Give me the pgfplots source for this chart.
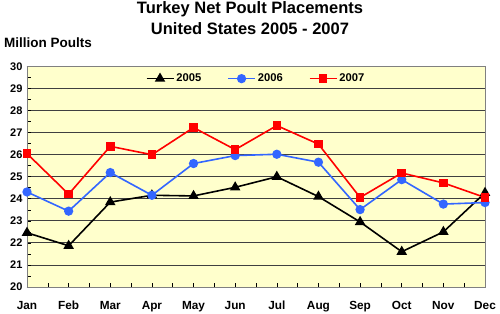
\documentclass[border=0pt]{standalone}
\usepackage{pgfplots}
\pgfplotsset{compat=1.18}
\usepackage{fontspec}
\setmainfont{Liberation Sans}
\definecolor{bgy}{HTML}{FFFFCC}
\definecolor{blu}{HTML}{3366FF}
\definecolor{gridc}{HTML}{404040}
\begin{document}
\begin{tikzpicture}
\path[use as bounding box] (-27pt,-26pt) rectangle (473pt,287pt);
\begin{axis}[
  at={(0pt,0pt)}, anchor=south west,
  scale only axis, width=458pt, height=220.5pt,
  xmin=0, xmax=11, ymin=20, ymax=30,
  xtick={0,...,11},
  xticklabels={Jan,Feb,Mar,Apr,May,Jun,Jul,Aug,Sep,Oct,Nov,Dec},
  ytick={20,...,30},
  minor xtick={0.5,1.5,...,10.5},
  minor ytick={20.5,21.5,...,29.5},
  ymajorgrids, major grid style={gridc, line width=0.8pt},
  axis background/.style={fill=bgy},
  axis line style={gray, line width=0.8pt},
  tick style={black, line width=0.6pt},
  major tick length=4pt, minor tick length=4pt,
  xtick pos=bottom, ytick pos=left,
  tick align=inside,
  /pgf/number format/assume math mode=true,
  yticklabel style={font=\fontsize{11}{13}\selectfont\bfseries, xshift=-1pt},
  xticklabel style={font=\fontsize{11.8}{14}\selectfont\bfseries, anchor=base, yshift=-22pt},
  legend style={at={(0.5,0.985)}, anchor=north, draw=none, fill=none,
    font=\fontsize{11.2}{13}\selectfont\bfseries, legend columns=3,
    /tikz/every even column/.append style={column sep=24pt}},
  legend image code/.code={
    \draw[mark repeat=2,mark phase=2] plot coordinates {(0pt,0pt) (13.5pt,0pt) (27pt,0pt)};},
  clip=false,
]
\addplot[black, line width=1.6pt, mark=triangle*, mark size=4.5pt, mark options={solid}] coordinates {
(0,22.46) (1,21.87) (2,23.85) (3,24.16) (4,24.13) (5,24.52) (6,25.0) (7,24.1) (8,22.95) (9,21.6) (10,22.5) (11,24.27)};
\addlegendentry{2005}
\addplot[blu, line width=1.6pt, mark=*, mark size=3.8pt] coordinates {
(0,24.31) (1,23.44) (2,25.19) (3,24.16) (4,25.6) (5,25.96) (6,26.02) (7,25.66) (8,23.51) (9,24.87) (10,23.76) (11,23.83)};
\addlegendentry{2006}
\addplot[red, line width=1.6pt, mark=square*, mark size=3.5pt] coordinates {
(0,26.05) (1,24.21) (2,26.38) (3,26.0) (4,27.23) (5,26.23) (6,27.32) (7,26.48) (8,24.06) (9,25.17) (10,24.72) (11,24.06)};
\addlegendentry{2007}
\end{axis}
\node[font=\fontsize{16.5}{20}\selectfont\bfseries, anchor=base] at (223pt,273pt) {Turkey Net Poult Placements};
\node[font=\fontsize{16.5}{20}\selectfont\bfseries, anchor=base] at (223pt,252pt) {United States 2005 - 2007};
\node[font=\fontsize{13.5}{16}\selectfont\bfseries, anchor=base west, inner sep=0pt] at (-23pt,239pt) {Million Poults};
\end{tikzpicture}
\end{document}
